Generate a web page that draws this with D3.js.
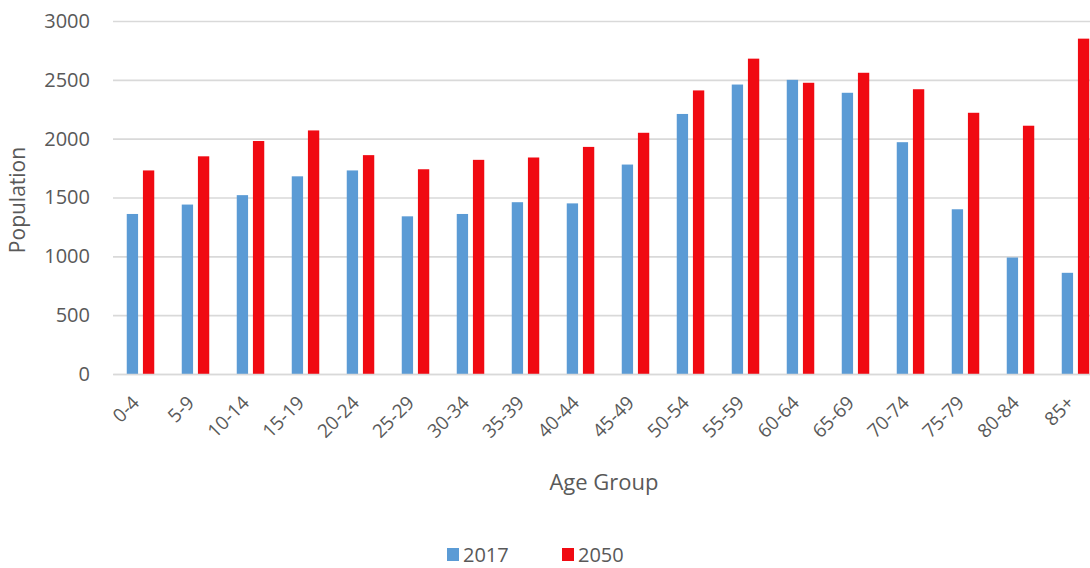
<!DOCTYPE html>
<html>
<head>
<meta charset="utf-8">
<script src="https://cdn.jsdelivr.net/npm/d3@7"></script>
<style>
  body { margin: 0; background: #fff; }
  text { font-family: "Open Sans", sans-serif; fill: #595959; }
</style>
</head>
<body>
<div id="viz"></div>
<script>
// chart data
var ageGroups = ["0-4", "5-9", "10-14", "15-19", "20-24", "25-29", "30-34", "35-39", "40-44",
  "45-49", "50-54", "55-59", "60-64", "65-69", "70-74", "75-79", "80-84", "85+"]
var pop2017 = [1360, 1440, 1520, 1680, 1730, 1340, 1360, 1460, 1450,
  1780, 2210, 2460, 2500, 2390, 1970, 1400, 990, 860]
var pop2050 = [1730, 1850, 1980, 2070, 1860, 1740, 1820, 1840, 1930,
  2050, 2410, 2680, 2475, 2560, 2420, 2220, 2110, 2850]
var seriesNames = ["2017", "2050"]
var yTicks = [0, 500, 1000, 1500, 2000, 2500, 3000]

var w = 1090
var h = 568
var colors = { "2017": "#5b9bd5", "2050": "#f00a12" }

var svg = d3.select("#viz")
  .append("svg")
  .attr("width", w)
  .attr("height", h)

var x = d3.scaleBand()
  .domain(ageGroups)
  .range([113, 1103])
  .paddingInner(0.5)
  .paddingOuter(0.25)

var xSub = d3.scaleBand()
  .domain(seriesNames)
  .range([0, x.bandwidth()])
  .paddingInner(0.3)

var y = d3.scaleLinear()
  .domain([0, 3000])
  .range([374, 21])

// gridlines + y labels
var yAxis = svg.append("g")
  .attr("transform", "translate(113,0)")
  .call(d3.axisLeft(y).tickValues(yTicks).tickFormat(d3.format("d"))
    .tickSize(-(w - 113)).tickPadding(23))
yAxis.select(".domain").remove()
yAxis.selectAll(".tick line").attr("stroke", "#d9d9d9").attr("stroke-width", 1.6)
yAxis.selectAll(".tick text")
  .style("font-size", "20px")
  .attr("fill", "#595959")

// bars
var rows = ageGroups.map((g, i) => ({ group: g, values: [
  { key: "2017", value: pop2017[i] },
  { key: "2050", value: pop2050[i] }
] }))

svg.selectAll(".grp").data(rows)
  .enter()
  .append("g")
  .attr("class", "grp")
  .attr("transform", d => "translate(" + x(d.group) + ",0)")
  .selectAll("rect").data(d => d.values)
  .enter()
  .append("rect")
  .attr("x", d => xSub(d.key))
  .attr("width", xSub.bandwidth())
  .attr("y", d => y(d.value))
  .attr("height", d => y(0) - y(d.value))
  .attr("fill", d => colors[d.key])

// x axis
var xAxis = svg.append("g")
  .attr("transform", "translate(0," + y(0) + ")")
  .call(d3.axisBottom(x).tickSize(0).tickPadding(0))
xAxis.select(".domain")
  .attr("stroke", "#d9d9d9")
  .attr("stroke-width", 1.6)
xAxis.selectAll(".tick text")
  .style("font-size", "19px")
  .attr("fill", "#595959")
  .attr("text-anchor", "end")
  .attr("dy", 0)
  .attr("transform", "translate(0,30) rotate(-45)")

// axis titles
svg.append("text")
  .attr("x", 604)
  .attr("y", 490)
  .attr("text-anchor", "middle")
  .style("font-size", "22px")
  .text("Age Group")

svg.append("text")
  .attr("transform", "translate(25,200) rotate(-90)")
  .attr("text-anchor", "middle")
  .style("font-size", "21px")
  .text("Population")

// legend
var legend = svg.append("g").attr("transform", "translate(447,0)")
var item = legend.selectAll(".leg").data(seriesNames)
  .enter()
  .append("g")
  .attr("class", "leg")
  .attr("transform", (d, i) => "translate(" + (i * 115) + ",0)")
item.append("rect")
  .attr("x", 0)
  .attr("y", 548)
  .attr("width", 12)
  .attr("height", 13)
  .attr("fill", d => colors[d])
item.append("text")
  .attr("x", 16)
  .attr("y", 562)
  .style("font-size", "20px")
  .text(d => d)
</script>
</body>
</html>
